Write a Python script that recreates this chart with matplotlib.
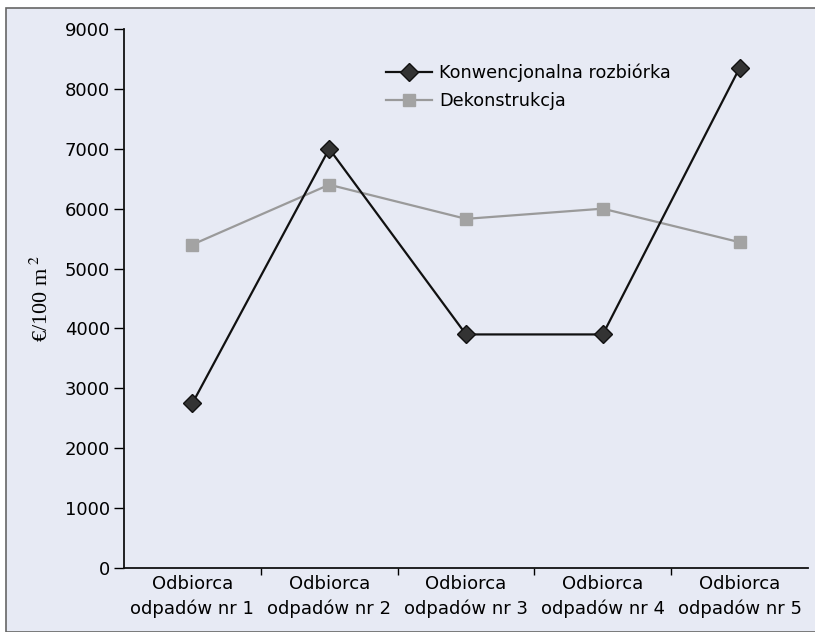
import matplotlib
matplotlib.use("Agg")
import matplotlib.pyplot as plt
from matplotlib.patches import Rectangle

categories = ["Odbiorca\nodpadów nr 1", "Odbiorca\nodpadów nr 2", "Odbiorca\nodpadów nr 3",
              "Odbiorca\nodpadów nr 4", "Odbiorca\nodpadów nr 5"]
konwencjonalna = [2750, 7000, 3900, 3900, 8350]
dekonstrukcja = [5400, 6400, 5830, 6000, 5440]
y_ticks = [0, 1000, 2000, 3000, 4000, 5000, 6000, 7000, 8000, 9000]

bg = "#e7eaf4"
plt.rcParams["font.family"] = ["DejaVu Sans"]
plt.rcParams["mathtext.fontset"] = "stix"

fig = plt.figure(figsize=(8.15, 6.32), dpi=100, facecolor="white")
fig.patches.append(Rectangle((6 / 815, 0), 1, 1 - 8 / 632, transform=fig.transFigure,
                             facecolor=bg, edgecolor="#666666", linewidth=1.2, zorder=-10))

ax = fig.add_axes([124 / 815, 64 / 632, (808 - 124) / 815, (568 - 29) / 632])
ax.set_facecolor(bg)

x = list(range(1, len(categories) + 1))
ax.plot(x, dekonstrukcja, color="#9a9a9a", linewidth=1.6, marker="s", markersize=9,
        markerfacecolor="#a3a3a3", markeredgecolor="#a3a3a3", label="Dekonstrukcja", zorder=2)
ax.plot(x, konwencjonalna, color="#111111", linewidth=1.6, marker="D", markersize=9.5,
        markerfacecolor="#333333", markeredgecolor="#111111", label="Konwencjonalna rozbiórka", zorder=3)

ax.set_xlim(0.5, len(categories) + 0.5)
ax.set_ylim(0, 9000)
ax.set_yticks(y_ticks)
ax.tick_params(axis="y", labelsize=13, length=7, width=1, direction="out", pad=3)

# category boundaries carry the tick marks, centres carry the labels
ax.set_xticks([i + 0.5 for i in range(1, len(categories))])
ax.set_xticklabels([])
ax.set_xticks(x, minor=True)
ax.set_xticklabels(categories, minor=True, fontsize=13, linespacing=1.45)
ax.tick_params(axis="x", which="major", length=5, width=1, direction="out")
ax.tick_params(axis="x", which="minor", length=0, pad=5)

for side in ("top", "right"):
    ax.spines[side].set_visible(False)
for side in ("left", "bottom"):
    ax.spines[side].set_linewidth(1.3)
    ax.spines[side].set_color("#111111")

ax.set_ylabel("€/100 m$^{\\ 2}$", fontsize=16, family="Liberation Serif")
ax.yaxis.set_label_coords(-0.104, 0.5)

handles, labels = ax.get_legend_handles_labels()
ax.legend(handles[::-1], labels[::-1], loc="upper left", bbox_to_anchor=(0.36, 0.965),
          frameon=False, fontsize=12.7, handlelength=2.6, handletextpad=0.4, labelspacing=0.55)

fig.savefig("out.png", dpi=100, facecolor=fig.get_facecolor())
